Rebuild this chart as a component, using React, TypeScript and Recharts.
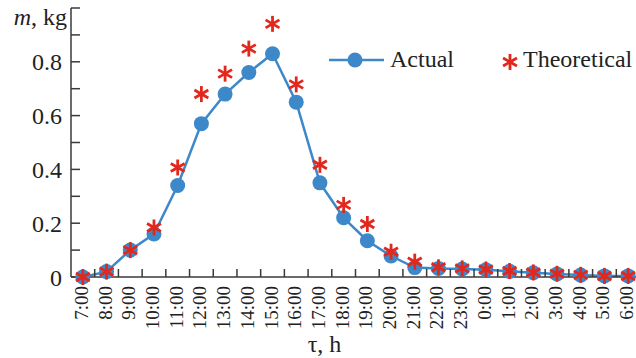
import React from 'react';
import { ComposedChart, Line, XAxis, YAxis, ReferenceArea, Legend, Label } from 'recharts';

const times = ['7:00', '8:00', '9:00', '10:00', '11:00', '12:00', '13:00', '14:00', '15:00', '16:00', '17:00', '18:00',
  '19:00', '20:00', '21:00', '22:00', '23:00', '0:00', '1:00', '2:00', '3:00', '4:00', '5:00', '6:00'];
const actual = [0, 0.02, 0.1, 0.16, 0.34, 0.57, 0.68, 0.76, 0.83, 0.65, 0.35, 0.22,
  0.135, 0.078, 0.035, 0.032, 0.03, 0.027, 0.021, 0.016, 0.011, 0.007, 0.004, 0.004];
const theoretical = [0, 0.02, 0.1, 0.184, 0.407, 0.68, 0.756, 0.849, 0.941, 0.716, 0.417, 0.268,
  0.197, 0.094, 0.057, 0.036, 0.032, 0.028, 0.022, 0.017, 0.012, 0.008, 0.004, 0.004];
const yTicks = [0, 0.1, 0.2, 0.3, 0.4, 0.5, 0.6, 0.7, 0.8, 0.9, 1.0];
const yLabelled = [0, 0.2, 0.4, 0.6, 0.8];

const data = times.map((t, i) => ({ time: t, actual: actual[i], theoretical: theoretical[i] }));

const FONT = '"Liberation Serif"';
const BLUE = '#3d88c9';
const RED = '#e2271d';
const AXIS = '#3a3a3a';
const TXT = '#222';

const CSS = `
#root svg text, #root svg tspan { font-family: "Liberation Serif", serif !important; }
`;

const Star = (props: any) => {
  const { cx, cy } = props;
  if (cx == null || cy == null) return null;
  const r = 8;
  const dx = r * Math.cos(Math.PI / 6);
  const dy = r * Math.sin(Math.PI / 6);
  return (
    <g stroke={RED} strokeWidth={2.8} strokeLinecap="butt">
      <line x1={cx} y1={cy - r} x2={cx} y2={cy + r} />
      <line x1={cx - dx} y1={cy - dy} x2={cx + dx} y2={cy + dy} />
      <line x1={cx - dx} y1={cy + dy} x2={cx + dx} y2={cy - dy} />
    </g>
  );
};

const XTick = (props: any) => {
  const { x, y, payload, index, width, visibleTicksCount } = props;
  let half = payload && typeof payload.offset === 'number' && payload.offset > 0 ? payload.offset : 0;
  if (!half && typeof width === 'number' && visibleTicksCount) half = width / visibleTicksCount / 2;
  return (
    <g>
      {index > 0 && half > 0 ? (
        <line x1={x - half} y1={y} x2={x - half} y2={y - 8} stroke={AXIS} strokeWidth={1.5} />
      ) : null}
      <text x={x} y={y + 9} dy={5} transform={`rotate(-90, ${x}, ${y + 9})`} textAnchor="end"
        style={{ fontFamily: FONT, fontSize: 19 }} fill={TXT}>
        {payload.value}
      </text>
    </g>
  );
};

const YLabel = (props: any) => {
  const vb = props.viewBox || { x: 0, y: 8, width: 71 };
  return (
    <text x={vb.x + vb.width - 4} y={vb.y + 17} textAnchor="end" style={{ fontFamily: FONT, fontSize: 24 }} fill={TXT}>
      <tspan fontStyle="italic">m</tspan>, kg
    </text>
  );
};

const XLabel = (props: any) => {
  const vb = props.viewBox || { x: 71, y: 277, width: 569, height: 81 };
  return (
    <text x={vb.x + vb.width / 2 - 31} y={vb.y + vb.height - 6} textAnchor="middle" style={{ fontFamily: FONT, fontSize: 24 }} fill={TXT}>
      τ, h
    </text>
  );
};

const LegendContent = () => (
  <svg width={320} height={34} style={{ display: 'block' }}>
    <line x1={4} y1={15} x2={59} y2={15} stroke={BLUE} strokeWidth={2.5} />
    <circle cx={30} cy={15} r={7.5} fill={BLUE} />
    <text x={65} y={22} style={{ fontFamily: FONT, fontSize: 24 }} fill={TXT}>Actual</text>
    <Star cx={185} cy={17} />
    <text x={198} y={22} style={{ fontFamily: FONT, fontSize: 24 }} fill={TXT}>Theoretical</text>
  </svg>
);

export default function App() {
  return (
    <div style={{ position: 'absolute', left: 0, top: 0, width: 636, height: 358, overflow: 'hidden', background: '#fff', fontFamily: FONT }}>
      <style>{CSS}</style>
      <ComposedChart width={650} height={358} data={data} margin={{ top: 8, right: 10, bottom: 0, left: 0 }}>
        <ReferenceArea xAxisId="cat" yAxisId="y" fill="none" stroke={AXIS} strokeWidth={1.5} ifOverflow="visible" />
        <XAxis xAxisId="cat" dataKey="time" scale="band" interval={0} height={81} tickLine={false} tickSize={0} tickMargin={0}
          tick={<XTick />} axisLine={{ stroke: AXIS, strokeWidth: 1.5 }}>
          <Label content={<XLabel />} />
        </XAxis>
        <YAxis yAxisId="y" width={71} domain={[0, 1]} ticks={yTicks} interval={0} tickSize={-9} tickMargin={18}
          tickFormatter={(v: number) => (yLabelled.some((l) => Math.abs(l - v) < 1e-9) ? String(v) : '')}
          tick={{ style: { fontFamily: FONT }, fontSize: 24, fill: TXT }}
          axisLine={{ stroke: AXIS, strokeWidth: 1.5 }} tickLine={{ stroke: AXIS, strokeWidth: 1.5 }}>
          <Label content={<YLabel />} />
        </YAxis>
        <Legend content={<LegendContent />} layout="horizontal" verticalAlign="middle" align="center"
          wrapperStyle={{ left: 325, top: 45, width: 320 }} />
        <Line xAxisId="cat" yAxisId="y" dataKey="actual" stroke={BLUE} strokeWidth={2.5}
          dot={{ r: 7.5, fill: BLUE, stroke: BLUE, strokeWidth: 0 }} activeDot={false} isAnimationActive={false} />
        <Line xAxisId="cat" yAxisId="y" dataKey="theoretical" stroke="none" strokeWidth={0}
          dot={(p: any) => <Star key={`star-${p.index}`} {...p} />} activeDot={false} isAnimationActive={false} />
      </ComposedChart>
    </div>
  );
}
